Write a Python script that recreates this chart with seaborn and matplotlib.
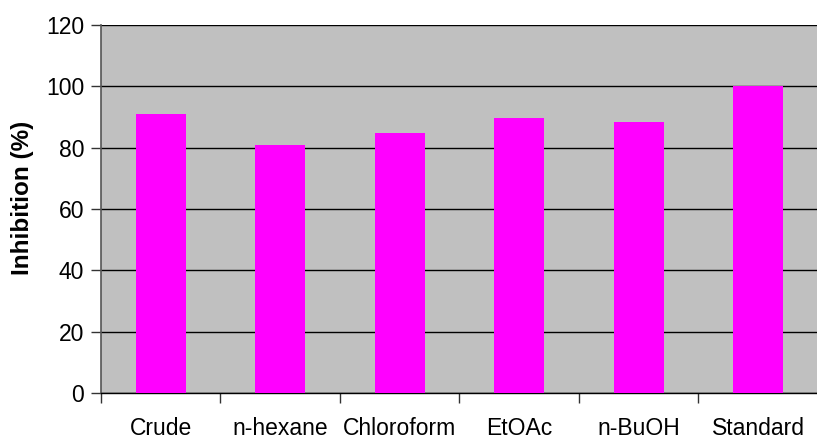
import pandas as pd
import seaborn as sns
import matplotlib.pyplot as plt
import numpy as np

categories = ['Crude', 'n-hexane', 'Chloroform', 'EtOAc', 'n-BuOH', 'Standard']
inhibition = [91, 80.8, 84.7, 89.8, 88.3, 100]

df = pd.DataFrame({'sample': categories, 'inhibition': inhibition})

sns.set_style('white')
plt.rcParams['font.family'] = ['Liberation Sans', 'DejaVu Sans']
plt.rcParams['text.color'] = 'black'
plt.rcParams['axes.labelcolor'] = 'black'
plt.rcParams['xtick.color'] = 'black'
plt.rcParams['ytick.color'] = 'black'

fig = plt.figure(figsize=(8.17, 4.38), dpi=100)
ax = fig.add_axes([0.1236, 0.1027, 0.8776, 0.8403])
ax.set_facecolor('#C0C0C0')

sns.barplot(data=df, x='sample', y='inhibition', color='#FF00FF', saturation=1,
            width=0.42, linewidth=0, ax=ax, zorder=3)

ax.set_ylim(0, 120)
ax.set_yticks(np.arange(0, 121, 20))
ax.set_xlim(-0.5, len(categories) - 0.5)
ax.yaxis.grid(True, color='black', linewidth=1.0, zorder=1)
ax.set_axisbelow(True)

ax.set_xlabel('')
ax.set_ylabel('Inhibition (%)', fontsize=17.5, fontweight='bold')
ax.yaxis.set_label_coords(-0.094, 0.53)

ax.set_xticks(np.arange(-0.5, len(categories), 1), minor=True)
ax.tick_params(axis='x', which='major', length=0, pad=17, labelsize=16.5, labelcolor='black')
ax.tick_params(axis='x', which='minor', length=7, width=1, color='#333333', direction='out', bottom=True)
ax.tick_params(axis='y', which='major', length=7, width=1, color='#333333', direction='out', left=True,
               labelsize=16.5, pad=5, labelcolor='black')

for side in ['top', 'right']:
    ax.spines[side].set_visible(False)
ax.spines['left'].set_color('#555555')
ax.spines['left'].set_linewidth(1.2)
ax.spines['bottom'].set_color('black')
ax.spines['bottom'].set_linewidth(1.0)

fig.savefig('out.png', dpi=100)
